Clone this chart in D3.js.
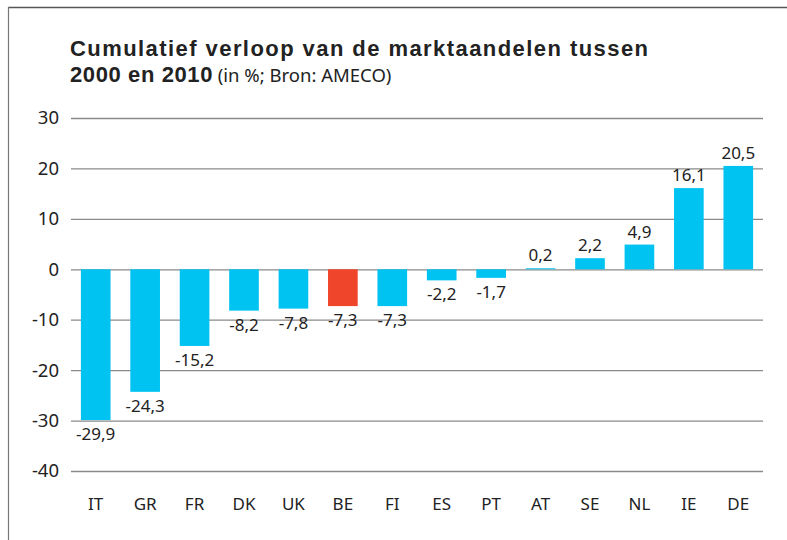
<!DOCTYPE html>
<html>
<head>
<meta charset="utf-8">
<script src="https://cdn.jsdelivr.net/npm/d3@7"></script>
<style>
  body { margin: 0; background: #fff; }
  text { font-family: "Noto Sans", Lato, sans-serif; fill: #222; }
  .title { font-family: "Liberation Sans", Arial, sans-serif; font-weight: bold; }
</style>
</head>
<body>
<script>
/* Data */
var countries = ["IT", "GR", "FR", "DK", "UK", "BE", "FI", "ES", "PT", "AT", "SE", "NL", "IE", "DE"];
var values = [-29.9, -24.3, -15.2, -8.2, -7.8, -7.3, -7.3, -2.2, -1.7, 0.2, 2.2, 4.9, 16.1, 20.5];
var yTicks = [30, 20, 10, 0, -10, -20, -30, -40];
var highlight = "BE";

var width = 787,
    height = 540;

var svg = d3.select("body").append("svg")
    .attr("width", width)
    .attr("height", height);

/* frame: top and left border only */
svg.append("line")
    .attr("x1", 8).attr("x2", width).attr("y1", 7.5).attr("y2", 7.5)
    .attr("stroke", "#555").attr("stroke-width", 1.5);
svg.append("line")
    .attr("x1", 8.5).attr("x2", 8.5).attr("y1", 7).attr("y2", height)
    .attr("stroke", "#777").attr("stroke-width", 1.2);

/* title */
var titleSize = 22;
var line1 = svg.append("text")
    .attr("class", "title")
    .attr("x", 70).attr("y", 56)
    .attr("font-size", titleSize)
    .text("Cumulatief verloop van de marktaandelen tussen");
// stretch the first line to the width it has in the reference
if (line1.node().getComputedTextLength() < 578) {
    line1.attr("textLength", 578).attr("lengthAdjust", "spacing");
}

var line2 = svg.append("text")
    .attr("x", 70).attr("y", 82);
line2.append("tspan")
    .attr("class", "title")
    .attr("font-size", titleSize)
    .attr("letter-spacing", 0.6)
    .text("2000 en 2010");
line2.append("tspan")
    .attr("font-size", 18.5)
    .text(" (in %; Bron: AMECO)");

/* scales */
var x = d3.scaleBand()
    .domain(countries)
    .range([71, 763])
    .paddingInner(0.4)
    .paddingOuter(0.2);

var y = d3.scaleLinear()
    .domain([-40, 30])
    .range([471, 118]);

/* grid lines with labels */
var yAxis = d3.axisLeft(y)
    .tickValues(yTicks)
    .tickSize(-(763 - 71))
    .tickPadding(12)
    .tickFormat(function(d) { return String(d); });

var gy = svg.append("g")
    .attr("transform", "translate(71,0)")
    .call(yAxis);
gy.select(".domain").remove();
gy.selectAll(".tick line").attr("stroke", "#8a8a8a").attr("stroke-width", 1.3);
gy.selectAll(".tick text")
    .attr("font-size", 18.5)
    .attr("font-family", "'Noto Sans', Lato, sans-serif")
    .attr("fill", "#222")
    .attr("x", -12);

/* bars */
svg.append("g")
    .selectAll("rect")
    .data(countries)
    .enter()
    .append("rect")
    .attr("x", function(d) { return x(d); })
    .attr("width", x.bandwidth())
    .attr("y", function(d, i) { return y(Math.max(0, values[i])); })
    .attr("height", function(d, i) { return Math.abs(y(values[i]) - y(0)); })
    .attr("fill", function(d) { return d === highlight ? "#EE452B" : "#00C3F2"; });

/* value labels */
svg.append("g")
    .selectAll("text")
    .data(countries)
    .enter()
    .append("text")
    .attr("x", function(d) { return x(d) + x.bandwidth() / 2; })
    .attr("y", function(d, i) {
        return values[i] < 0 ? y(values[i]) + 20 : y(values[i]) - 7;
    })
    .attr("text-anchor", "middle")
    .attr("font-size", 17)
    .text(function(d, i) { return String(values[i]).replace(".", ","); });

/* category labels */
svg.append("g")
    .selectAll("text")
    .data(countries)
    .enter()
    .append("text")
    .attr("x", function(d) { return x(d) + x.bandwidth() / 2; })
    .attr("y", 510)
    .attr("text-anchor", "middle")
    .attr("font-size", 17)
    .text(function(d) { return d; });
</script>
</body>
</html>
